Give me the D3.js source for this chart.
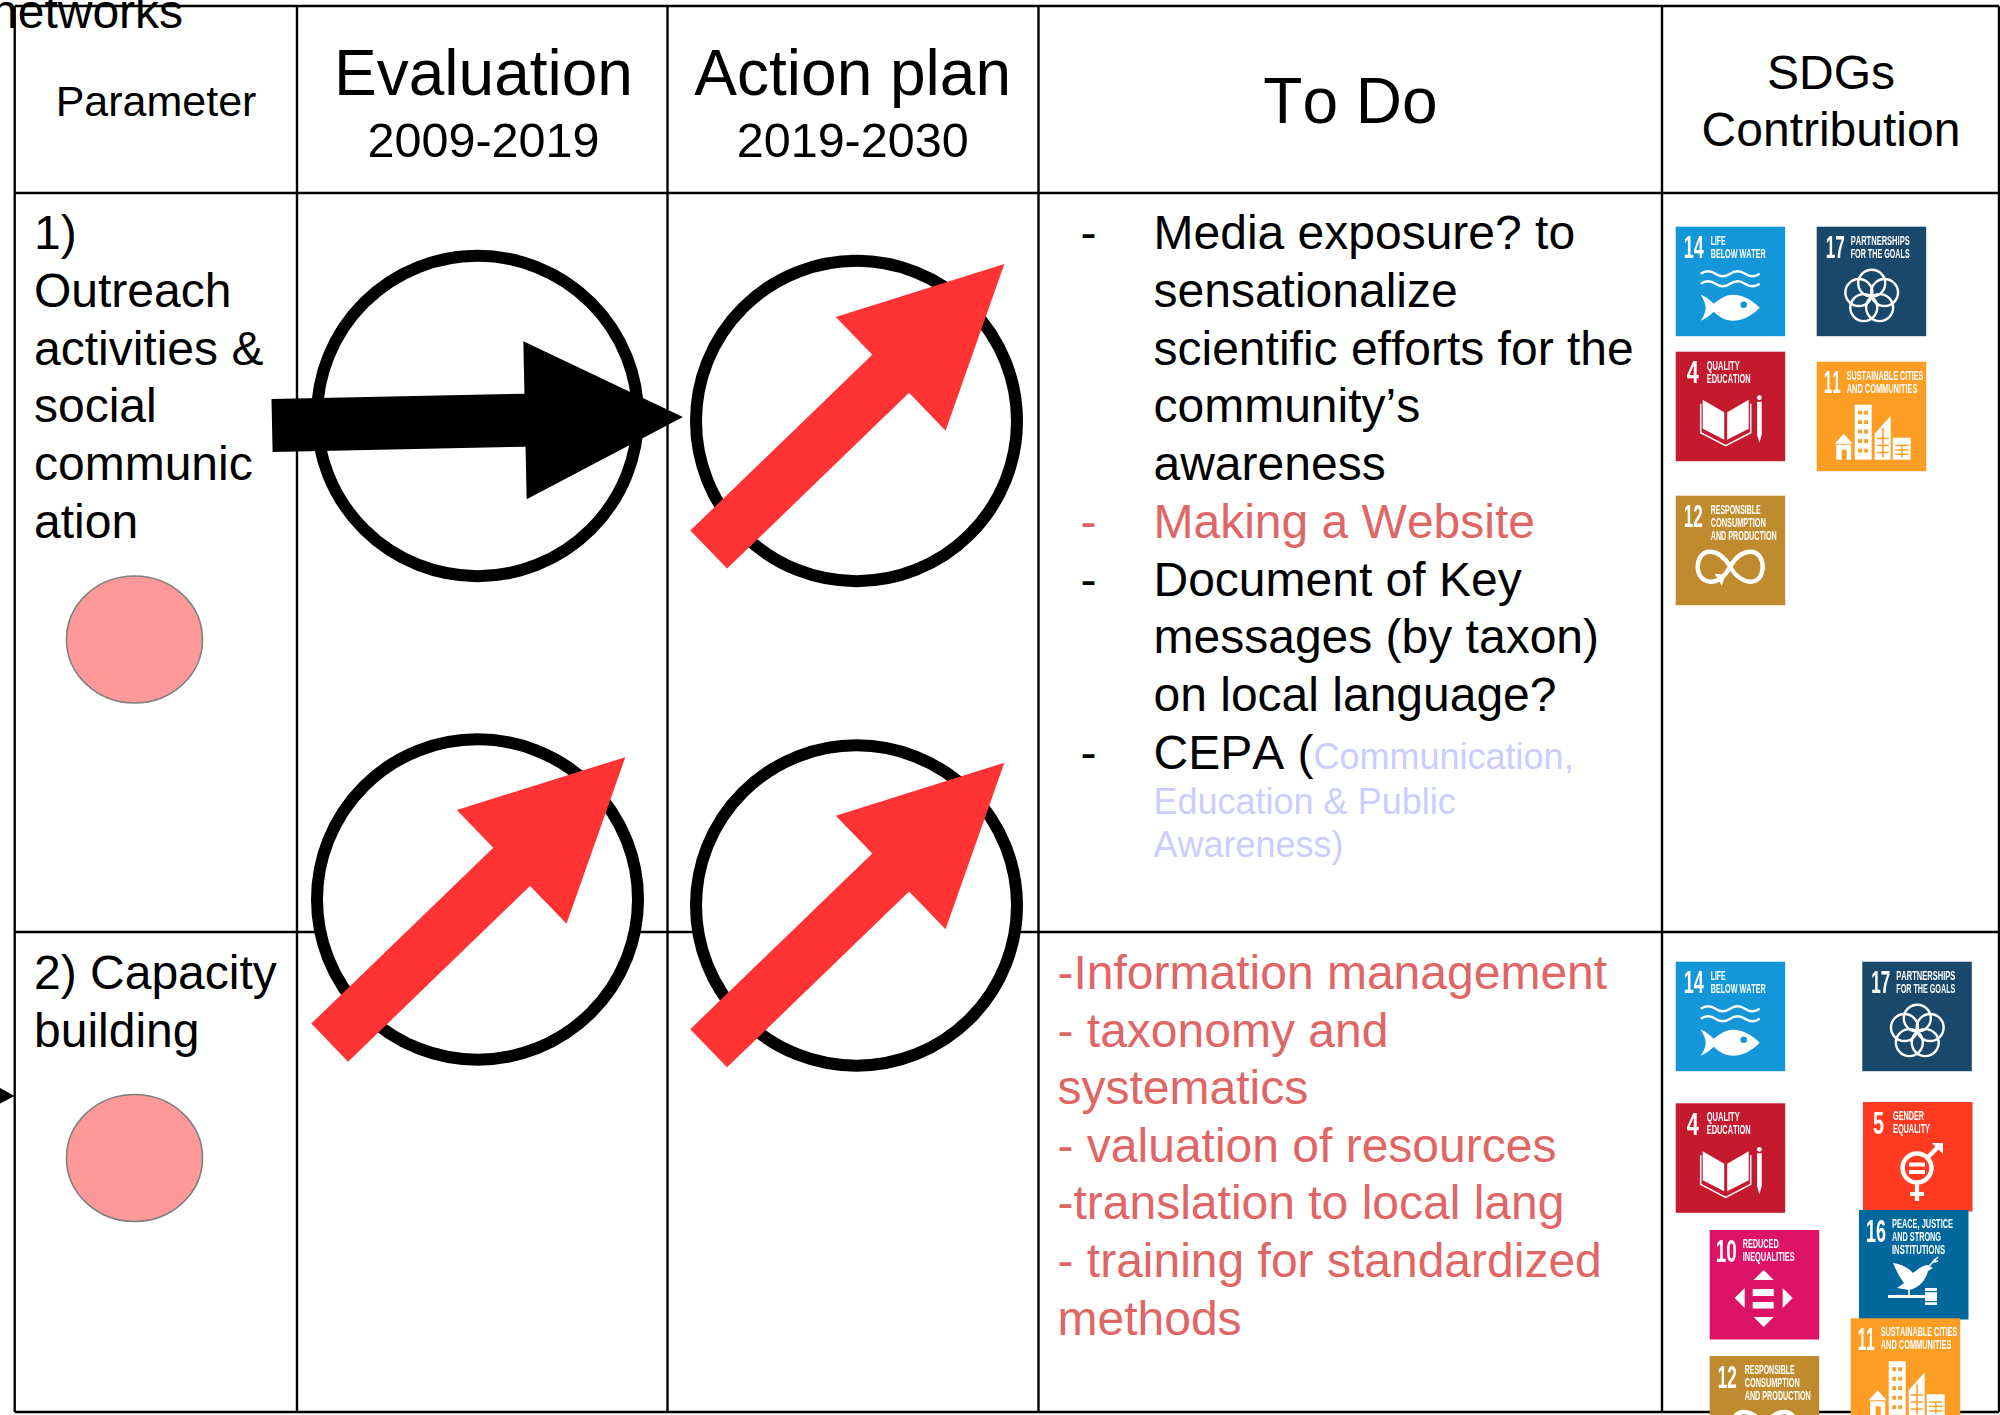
<!DOCTYPE html>
<html>
<head>
<meta charset="UTF-8">
<title>networks evaluation table</title>
<script src="https://d3js.org/d3.v7.min.js"></script>
<style>
html, body { margin: 0; padding: 0; background: #fff; overflow: hidden; }
svg { display: block; }
text { font-family: "Liberation Sans", Arial, sans-serif; fill: #000; font-kerning: none; }
.tile text { font-family: "Liberation Sans Narrow", "Liberation Sans", sans-serif; font-weight: bold; fill: #fff; }
.tile { filter: blur(0.35px); }
</style>
</head>
<body>
<svg id="chart" width="2000" height="1415"></svg>
<script>
// ---- table content ----
var columns = ["Parameter", "Evaluation", "Action plan", "To Do", "SDGs"];
var rows = ["head", "outreach", "capacity"];
var headEvaluationYears = "2009-2019";
var headActionYears = "2019-2030";
var headSdg = ["SDGs", "Contribution"];
var outreachLines = ["1)", "Outreach", "activities &", "social", "communic", "ation"];
var capacityLines = ["2) Capacity", "building"];

var evaluationTrend = ["steady", "up"];
var actionTrend = ["up", "up"];

var todoOutreach = [
	{ dash: true, text: "Media exposure? to" },
	{ text: "sensationalize" },
	{ text: "scientific efforts for the" },
	{ text: "community\u2019s" },
	{ text: "awareness" },
	{ dash: true, text: "Making a Website", red: true },
	{ dash: true, text: "Document of Key" },
	{ text: "messages (by taxon)" },
	{ text: "on local language?" },
	{ dash: true, text: "CEPA (", light: "Communication," }
];
var todoLight = ["Education & Public", "Awareness)"];
var todoCapacity = [
	"-Information management",
	"- taxonomy and",
	"systematics",
	"- valuation of resources",
	"-translation to local lang",
	"- training for standardized",
	"methods"
];

// sdg tiles
var sdgGoals = [14, 17, 4, 11, 12, 5, 16, 10];
var sdgColors = ["#1497d8", "#19486a", "#c5192d", "#fd9d24", "#bf8b2e", "#ff3a21", "#00689d", "#dd1367"];
var sdgLabels = [
	["LIFE", "BELOW WATER"],
	["PARTNERSHIPS", "FOR THE GOALS"],
	["QUALITY", "EDUCATION"],
	["SUSTAINABLE CITIES", "AND COMMUNITIES"],
	["RESPONSIBLE", "CONSUMPTION", "AND PRODUCTION"],
	["GENDER", "EQUALITY"],
	["PEACE, JUSTICE", "AND STRONG", "INSTITUTIONS"],
	["REDUCED", "INEQUALITIES"]
];
var outreachTiles = [14, 17, 4, 11, 12];
var capacityTiles = [14, 17, 4, 5, 10, 16, 12, 11];

// ---- layout (kept apart from the content above) ----
var red = "#e06666", lilac = "#ccccff", arrowRed = "#ff3333";
var width = 2000, height = 1415;

var colX = d3.scaleOrdinal().domain(columns.concat(["end"])).range([14.7, 297, 667.5, 1038.5, 1662, 1999]);
var rowY = d3.scaleOrdinal().domain(rows.concat(["end"])).range([6, 193, 932, 1412]);
var headCenter = d3.scaleOrdinal().domain(columns).range([156, 483.5, 852.7, 1350.5, 1831]);

var lineOut = d3.scaleLinear().domain([0, 1]).range([249.3, 307]);
var lineCap = d3.scaleLinear().domain([0, 1]).range([989, 1046.6]);

var circleCx = d3.scaleOrdinal().domain(["Evaluation", "Action plan"]).range([477.5, 856.5]);
var circleCy = d3.scaleOrdinal().domain(["Evaluation/outreach", "Evaluation/capacity", "Action plan/outreach", "Action plan/capacity"])
	.range([416, 899.5, 421, 905.5]);
var arrowOffsetY = d3.scaleOrdinal().domain(["Evaluation/outreach", "Evaluation/capacity", "Action plan/outreach", "Action plan/capacity"])
	.range([5.2, 0.4, -14.2, 0]);
var trendAngle = d3.scaleOrdinal().domain(["steady", "up"]).range([-1.2, -44]);
var trendColor = d3.scaleOrdinal().domain(["steady", "up"]).range(["#000", arrowRed]);

var tileKeys = outreachTiles.map(function(g) { return "o" + g; }).concat(capacityTiles.map(function(g) { return "c" + g; }));
var tileX = d3.scaleOrdinal().domain(tileKeys).range([1675.7, 1816.7, 1675.7, 1816.7, 1675.7, 1675.7, 1862.3, 1675.7, 1863, 1709.7, 1859, 1709.7, 1850.7]);
var tileY = d3.scaleOrdinal().domain(tileKeys).range([226.7, 226.7, 351.7, 361.7, 495.7, 961.7, 961.7, 1103.3, 1102, 1230, 1210, 1356, 1318.3]);
var tileSize = 109.5;

var numX = d3.scaleOrdinal().domain(sdgGoals).range([8, 9, 11, 7, 8, 10, 7, 6]);
var numW = d3.scaleOrdinal().domain(sdgGoals).range([20, 19, 12, 17, 19, 11, 20, 21]);
var labelX = d3.scaleOrdinal().domain(sdgGoals).range([35, 34, 31, 30, 35, 30, 33, 33]);
var labelW = {
	14: [15, 55], 17: [59, 59], 4: [33, 44], 11: [76.7, 70.7], 12: [50, 55, 66],
	5: [31, 37], 16: [61, 49, 53], 10: [36, 52]
};

var svg = d3.select("#chart");
var poly = d3.line();

function addText(parent, str, x, y, size, color, anchor) {
	return parent.append("text")
		.attr("x", x).attr("y", y)
		.attr("font-size", size)
		.attr("text-anchor", anchor || "start")
		.style("fill", color || "#000")
		.text(str);
}

// ---- grid ----
var grid = svg.append("g").attr("stroke", "#000").attr("stroke-width", 2.4);
grid.selectAll("line.v").data(columns.concat(["end"])).enter().append("line")
	.attr("class", "v")
	.attr("x1", colX).attr("x2", colX)
	.attr("y1", rowY("head")).attr("y2", rowY("end"));
grid.selectAll("line.h").data(rows.concat(["end"])).enter().append("line")
	.attr("class", "h")
	.attr("x1", colX("Parameter")).attr("x2", colX("end"))
	.attr("y1", rowY).attr("y2", rowY);

// leftover text and arrow tip from the slide behind the table
addText(svg, "networks", -9, 27.5, 48);
svg.append("path")
	.attr("d", poly([[0, 1088], [14.6, 1096], [0, 1103.5]]) + "Z")
	.attr("fill", "#000");

// ---- header ----
addText(svg, columns[0], headCenter("Parameter"), 116, 43, "#000", "middle");
addText(svg, columns[1], headCenter("Evaluation"), 95, 64, "#000", "middle");
addText(svg, headEvaluationYears, headCenter("Evaluation"), 157, 48.5, "#000", "middle");
addText(svg, columns[2], headCenter("Action plan"), 95, 64, "#000", "middle");
addText(svg, headActionYears, headCenter("Action plan"), 157, 48.5, "#000", "middle");
addText(svg, columns[3], headCenter("To Do"), 123, 64, "#000", "middle");
addText(svg, headSdg[0], headCenter("SDGs"), 89, 48, "#000", "middle");
addText(svg, headSdg[1], headCenter("SDGs"), 146, 48, "#000", "middle");

// ---- parameter column ----
outreachLines.forEach(function(t, i) { addText(svg, t, 34, lineOut(i), 48); });
capacityLines.forEach(function(t, i) { addText(svg, t, 34, lineCap(i), 48); });

[639.5, 1158].forEach(function(cy) {
	svg.append("ellipse")
		.attr("cx", 134.5).attr("cy", cy)
		.attr("rx", 68).attr("ry", 63.5)
		.attr("fill", "#ff9999")
		.attr("stroke", "#808080").attr("stroke-width", 1.6);
});

// ---- trend circles and arrows ----
function arrowPath(len, shaft, headW, headL) {
	var h = len / 2, n = h - headL;
	return poly([[-h, -shaft / 2], [n, -shaft / 2], [n, -headW / 2], [h, 0], [n, headW / 2], [n, shaft / 2], [-h, shaft / 2]]) + "Z";
}

var trends = [];
["outreach", "capacity"].forEach(function(r, i) {
	trends.push({ col: "Evaluation", row: r, trend: evaluationTrend[i] });
	trends.push({ col: "Action plan", row: r, trend: actionTrend[i] });
});

svg.selectAll("ellipse.trend").data(trends).enter().append("ellipse")
	.attr("class", "trend")
	.attr("cx", function(d) { return circleCx(d.col); })
	.attr("cy", function(d) { return circleCy(d.col + "/" + d.row); })
	.attr("rx", 160.5).attr("ry", 160.2)
	.attr("fill", "#fff")
	.attr("stroke", "#000").attr("stroke-width", 12);

svg.selectAll("path.trend").data(trends).enter().append("path")
	.attr("class", "trend")
	.attr("d", arrowPath(411, 53, 158, 158))
	.attr("fill", function(d) { return trendColor(d.trend); })
	.attr("transform", function(d) {
		var key = d.col + "/" + d.row;
		return "translate(" + circleCx(d.col) + "," + (circleCy(key) + arrowOffsetY(key)) + ") rotate(" + trendAngle(d.trend) + ")";
	});

// ---- to do column ----
todoOutreach.forEach(function(d, i) {
	var y = lineOut(i);
	var color = d.red ? red : "#000";
	if (d.dash) addText(svg, "-", 1080.5, y, 48, color);
	var t = addText(svg, d.text, 1153.5, y, 48, color);
	if (d.light) t.append("tspan").attr("font-size", 36).style("fill", lilac).text(d.light);
});
addText(svg, todoLight[0], 1153.5, 814, 36, lilac);
addText(svg, todoLight[1], 1153.5, 857, 36, lilac);
todoCapacity.forEach(function(t, i) { addText(svg, t, 1057.5, lineCap(i), 48, red); });

// ---- sdg tiles ----
var icons = {
	14: function(g, c) {
		[47, 57].forEach(function(y) {
			g.append("path").attr("d", "M25," + y + " q7.4,-5 14.75,0 t14.75,0 t14.75,0 t14.75,0")
				.attr("fill", "none").attr("stroke", "#fff").attr("stroke-width", 2.4);
		});
		g.append("path").attr("fill", "#fff")
			.attr("d", "M84,81 C75,72 66,68 57,68 C50,68 43,73 38,77 C34,73 29,69 25,68 C28,73 30,77 30,81 C30,85 28,90 25,94 C30,92 34,89 38,85 C43,90 50,94 57,94 C66,94 75,90 84,81Z");
		g.append("circle").attr("cx", 68).attr("cy", 78).attr("r", 3.3).attr("fill", c);
	},
	17: function(g) {
		d3.range(5).forEach(function(i) {
			var a = -Math.PI / 2 + i * 2 * Math.PI / 5;
			g.append("circle")
				.attr("cx", 55 + 13.5 * Math.cos(a)).attr("cy", 70 + 13.5 * Math.sin(a)).attr("r", 13.5)
				.attr("fill", "none").attr("stroke", "#fff").attr("stroke-width", 2.4);
		});
	},
	4: function(g) {
		g.append("path").attr("fill", "#fff").attr("d", poly([[27, 48], [48.5, 60.5], [48.5, 88], [27, 77]]) + "Z");
		g.append("path").attr("fill", "#fff").attr("d", poly([[51.5, 60.5], [73, 48], [73, 77], [51.5, 88]]) + "Z");
		g.append("path").attr("fill", "none").attr("stroke", "#fff").attr("stroke-width", 1.5)
			.attr("d", "M25,52 V81 L50,94 L75,81 V52");
		g.append("circle").attr("cx", 83.7).attr("cy", 46).attr("r", 2.4).attr("fill", "#fff");
		g.append("path").attr("fill", "#fff").attr("d", poly([[81.4, 50], [86, 50], [86, 83], [83.7, 91], [81.4, 83]]) + "Z");
	},
	11: function(g, c) {
		g.append("path").attr("fill", "#fff").attr("d", poly([[18, 82], [27, 72], [36, 82]]) + "Z");
		g.append("rect").attr("x", 19.5).attr("y", 83).attr("width", 15).attr("height", 15).attr("fill", "#fff");
		g.append("rect").attr("x", 25).attr("y", 88).attr("width", 5).attr("height", 10).attr("fill", c);
		g.append("rect").attr("x", 38).attr("y", 43).attr("width", 17).attr("height", 55).attr("fill", "#fff");
		g.append("path").attr("fill", "#fff").attr("d", poly([[58, 98], [58, 72], [74, 54], [74, 98]]) + "Z");
		g.append("rect").attr("x", 76).attr("y", 76).attr("width", 18).attr("height", 22).attr("fill", "#fff");
		d3.range(5).forEach(function(i) {
			[41.5, 47.5].forEach(function(x) {
				g.append("rect").attr("x", x).attr("y", 49 + i * 9.5).attr("width", 3.8).attr("height", 3.8).attr("fill", c);
			});
		});
		d3.range(3).forEach(function(i) {
			g.append("rect").attr("x", 60).attr("y", 76 + i * 7).attr("width", 12).attr("height", 1.5).attr("fill", c);
			g.append("rect").attr("x", 78.5).attr("y", 83 + i * 4.5).attr("width", 13).attr("height", 1.4).attr("fill", c);
		});
		g.append("rect").attr("x", 65.5).attr("y", 66).attr("width", 1.5).attr("height", 30).attr("fill", c);
		g.append("rect").attr("x", 84.5).attr("y", 83).attr("width", 1.4).attr("height", 13).attr("fill", c);
	},
	12: function(g) {
		g.append("path").attr("fill", "none").attr("stroke", "#fff").attr("stroke-width", 4.4)
			.attr("d", "M54.5,71 C48,60 40,56 34,56 C26,56 22,64 22,71 C22,79 27,86 35,86 C42,86 49,81 54.5,71 C60,61 67,56 75,56 C83,56 87,64 87,71 C87,79 83,86 75,86 C68,86 60,81 54.5,71Z");
		g.append("path").attr("fill", "#fff").attr("d", poly([[39, 78], [50, 79], [46, 90]]) + "Z");
	},
	5: function(g) {
		g.append("circle").attr("cx", 54).attr("cy", 66).attr("r", 14.5)
			.attr("fill", "none").attr("stroke", "#fff").attr("stroke-width", 4.5);
		g.append("rect").attr("x", 46).attr("y", 60.5).attr("width", 16).attr("height", 4).attr("fill", "#fff");
		g.append("rect").attr("x", 46).attr("y", 68).attr("width", 16).attr("height", 4).attr("fill", "#fff");
		g.append("path").attr("d", "M64,56 L76,44").attr("stroke", "#fff").attr("stroke-width", 4.5);
		g.append("path").attr("fill", "#fff").attr("d", poly([[69, 41], [80, 41], [80, 52]]) + "Z");
		g.append("path").attr("d", "M54,81 V99 M47,92 H61").attr("stroke", "#fff").attr("stroke-width", 4.2).attr("fill", "none");
	},
	16: function(g, c) {
		g.append("path").attr("fill", "#fff")
			.attr("d", "M34,53 C42,54 50,58 54,63 C58,60 62,56 68,55 L74,58 L69,61 C67,70 60,78 50,80 L38,78 L45,73 C41,68 37,60 34,53Z");
		g.append("path").attr("d", "M69,57 L79,47 M73,53 L76,49 M75,52 L79,51").attr("stroke", "#fff").attr("stroke-width", 1.6).attr("fill", "none");
		g.append("path").attr("d", "M50,79 V86").attr("stroke", "#fff").attr("stroke-width", 1.6);
		g.append("rect").attr("x", 29).attr("y", 85).attr("width", 38).attr("height", 3).attr("fill", "#fff");
		g.append("rect").attr("x", 66).attr("y", 78).attr("width", 12).attr("height", 17).attr("fill", "#fff");
		g.append("rect").attr("x", 66).attr("y", 81).attr("width", 12).attr("height", 1.2).attr("fill", c);
		g.append("rect").attr("x", 66).attr("y", 91).attr("width", 12).attr("height", 1.2).attr("fill", c);
	},
	10: function(g) {
		var shapes = [
			[[44, 50], [54, 40], [64, 50]],
			[[35, 58], [25, 68], [35, 78]],
			[[73, 58], [83, 68], [73, 78]],
			[[44, 87], [54, 97], [64, 87]]
		];
		shapes.forEach(function(s) { g.append("path").attr("fill", "#fff").attr("d", poly(s) + "Z"); });
		g.append("rect").attr("x", 43).attr("y", 59).attr("width", 21).attr("height", 7).attr("fill", "#fff");
		g.append("rect").attr("x", 43).attr("y", 72).attr("width", 21).attr("height", 6.5).attr("fill", "#fff");
	}
};

var goalColor = d3.scaleOrdinal().domain(sdgGoals).range(sdgColors);

function drawTile(key, goal) {
	var g = svg.append("g").attr("class", "tile")
		.attr("transform", "translate(" + tileX(key) + "," + tileY(key) + ")");
	g.append("rect").attr("width", tileSize).attr("height", tileSize).attr("fill", goalColor(goal));
	g.append("text")
		.attr("x", numX(goal)).attr("y", 31.5)
		.attr("font-size", 31)
		.attr("textLength", numW(goal)).attr("lengthAdjust", "spacingAndGlyphs")
		.text(goal);
	sdgLabels[sdgGoals.indexOf(goal)].forEach(function(t, i) {
		g.append("text")
			.attr("x", labelX(goal)).attr("y", 18 + i * 13)
			.attr("font-size", 13.5)
			.attr("textLength", labelW[goal][i]).attr("lengthAdjust", "spacingAndGlyphs")
			.text(t);
	});
	icons[goal](g, goalColor(goal));
}

outreachTiles.forEach(function(g) { drawTile("o" + g, g); });
capacityTiles.forEach(function(g) { drawTile("c" + g, g); });
</script>
</body>
</html>
